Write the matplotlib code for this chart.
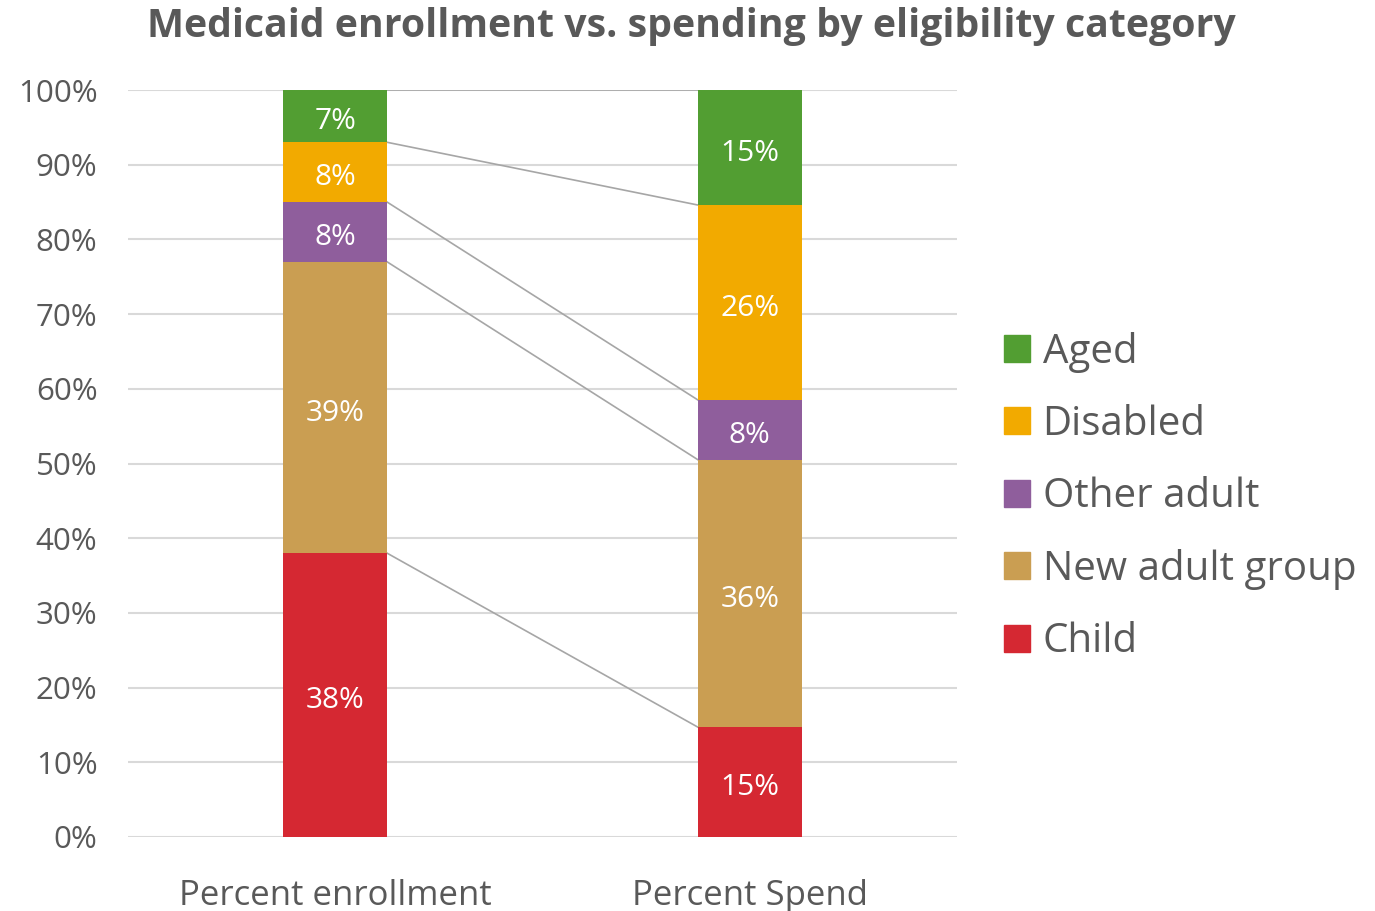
import numpy as np
import matplotlib
matplotlib.use('Agg')
import matplotlib.pyplot as plt
from matplotlib.patches import Patch

plt.rcParams['font.family'] = ['Open Sans', 'DejaVu Sans']

# data (percent of total), bottom to top
bars = ['Percent enrollment', 'Percent Spend']
categories = ['Child', 'New adult group', 'Other adult', 'Disabled', 'Aged']
enrollment = [38.0, 39.0, 8.0, 8.0, 7.0]
spend = [14.7, 35.8, 8.0, 26.1, 15.4]
colors = ['#D52832', '#CA9E52', '#8F5E9C', '#F2AA00', '#529E32']

grey = '#595959'
fig = plt.figure(figsize=(13.75, 9.11), dpi=100)
ax = fig.add_axes([128/1375, 74/911, 829/1375, 747/911])

x = np.arange(len(bars))
width = 0.25
data = np.array([enrollment, spend])   # rows = bars
bottoms = np.zeros(len(bars))
for i, cat in enumerate(categories):
    vals = data[:, i]
    ax.bar(x, vals, width, bottom=bottoms, color=colors[i], zorder=3)
    for xi, v, b in zip(x, vals, bottoms):
        # nudge labels down a little, like the original renderer
        ax.annotate('{:.0f}%'.format(v), (xi, b + v/2), xytext=(0, -4),
                    textcoords='offset points', ha='center', va='center',
                    color='white', fontsize=21.5, zorder=4)
    bottoms = bottoms + vals
    # series line between the two bars
    ax.plot([x[0] + width/2, x[1] - width/2], [bottoms[0], bottoms[1]],
            color='#A6A6A6', lw=1.2, zorder=2)

ax.set_xlim(-0.5, 1.5)
ax.set_ylim(0, 100)
ax.set_yticks(np.arange(0, 101, 10))
ax.set_yticklabels(['{}%'.format(t) for t in range(0, 101, 10)])
ax.set_xticks(x)
ax.set_xticklabels(bars)
ax.tick_params(axis='y', length=0, pad=22, labelsize=22.5, labelcolor=grey)
ax.tick_params(axis='x', length=0, pad=30, labelsize=25, labelcolor=grey)
ax.grid(axis='y', color='#D9D9D9', lw=1.5, zorder=0)
for s in ax.spines.values():
    s.set_visible(False)

handles = [Patch(color=colors[i], label=categories[i]) for i in range(len(categories)-1, -1, -1)]
fig.legend(handles=handles, loc='center left', bbox_to_anchor=(968/1375, 1 - 497/911),
           frameon=False, fontsize=29, labelcolor=grey, handlelength=0.65,
           handleheight=0.65, handletextpad=0.3, labelspacing=0.79)

fig.text(0.503, 1 - 27/911, 'Medicaid enrollment vs. spending by eligibility category',
         ha='center', va='center', fontsize=28.3, fontweight='bold', color=grey)

fig.savefig('out.png', dpi=100)
